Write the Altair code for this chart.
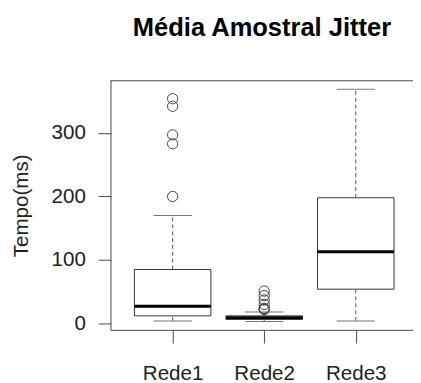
import altair as alt
import pandas as pd

categories = ["Rede1", "Rede2", "Rede3"]
whisker_low = [4, 3, 4]
q1 = [12, 6.5, 54]
median = [27, 9, 113]
q3 = [85, 12, 198]
whisker_high = [170, 18, 369]
outliers = [[200, 283, 297, 342, 354], [22, 23, 24, 30, 37, 44, 51], []]
y_ticks = [0, 100, 200, 300]

W, H = 308, 255
FONT = "Liberation Sans"

stats = pd.DataFrame({
    "cat": categories,
    "pos": list(range(1, len(categories) + 1)),
    "lo": whisker_low, "q1": q1, "med": median, "q3": q3, "hi": whisker_high,
})
out_rows = []
for i, vals in enumerate(outliers):
    for v in vals:
        out_rows.append({"cat": categories[i], "pos": i + 1, "v": v})
outs = pd.DataFrame(out_rows)

label_expr = "[" + ",".join("'%s'" % c for c in categories) + "][datum.value - 1]"

xs = alt.Scale(domain=[0.38, 0.38 + W / 96.5], nice=False, zero=False)
ys = alt.Scale(domain=[-10.8, 383], nice=False, zero=False)

x_enc = alt.X("pos:Q", scale=xs, axis=alt.Axis(
    values=[1, 2, 3], labelExpr=label_expr, title=None, grid=False, domain=False,
    tickSize=13, tickColor="#444", labelFontSize=21, labelFont=FONT, labelColor="#222",
    labelPadding=20))
y_axis = alt.Axis(values=y_ticks, title="Tempo(ms)", grid=False, domain=False,
                  tickSize=13, tickColor="#444", labelFontSize=21, labelFont=FONT,
                  labelColor="#222", labelPadding=13, titleFont=FONT, titleFontSize=21,
                  titleFontWeight="normal", titleColor="#222", titleX=-91, titleY=127.5,
                  titleAngle=270, titleAlign="center", titleBaseline="middle")

base = alt.Chart(stats)
whisk_lo = base.mark_rule(color="#555", strokeDash=[4, 3], strokeWidth=1).encode(
    x=x_enc, y=alt.Y("lo:Q", scale=ys, axis=y_axis), y2="q1:Q")
whisk_hi = base.mark_rule(color="#555", strokeDash=[4, 3], strokeWidth=1).encode(
    x="pos:Q", y="q3:Q", y2="hi:Q")
cap_lo = base.mark_tick(orient="horizontal", size=39, thickness=1, color="#777",
                        opacity=1).encode(x="pos:Q", y="lo:Q")
cap_hi = base.mark_tick(orient="horizontal", size=39, thickness=1, color="#777",
                        opacity=1).encode(x="pos:Q", y="hi:Q")
box = base.mark_bar(size=78, fill="white", stroke="#333", strokeWidth=1, opacity=1).encode(
    x="pos:Q", y="q1:Q", y2="q3:Q")
med = base.mark_tick(orient="horizontal", size=78, thickness=3, color="black",
                     opacity=1).encode(x="pos:Q", y="med:Q")
pts = alt.Chart(outs).mark_point(shape="circle", filled=False, size=110, strokeWidth=1,
                                 color="#444", opacity=1).encode(x="pos:Q", y="v:Q")

border_df = pd.DataFrame({"k": [0]})
bt = alt.Chart(border_df).mark_rule(color="#444", strokeWidth=1).encode(
    x=alt.value(0), x2=alt.value(W), y=alt.value(0.5))
bb = alt.Chart(border_df).mark_rule(color="#444", strokeWidth=1).encode(
    x=alt.value(0), x2=alt.value(W), y=alt.value(H))
bl = alt.Chart(border_df).mark_rule(color="#444", strokeWidth=1).encode(
    x=alt.value(0), y=alt.value(0), y2=alt.value(H))

chart = alt.layer(whisk_lo, whisk_hi, cap_lo, cap_hi, box, med, pts, bt, bb, bl).properties(
    width=W, height=H,
    title=alt.TitleParams("Média Amostral Jitter", fontSize=26, fontWeight="bold",
                          font=FONT, anchor="middle", offset=40, color="black"),
    autosize=alt.AutoSizeParams(type="none"),
    padding={"left": 105, "top": 70, "right": 0, "bottom": 50},
).configure_view(stroke=None)

chart.save("out.html", embed_options={"renderer": "svg", "actions": False})
